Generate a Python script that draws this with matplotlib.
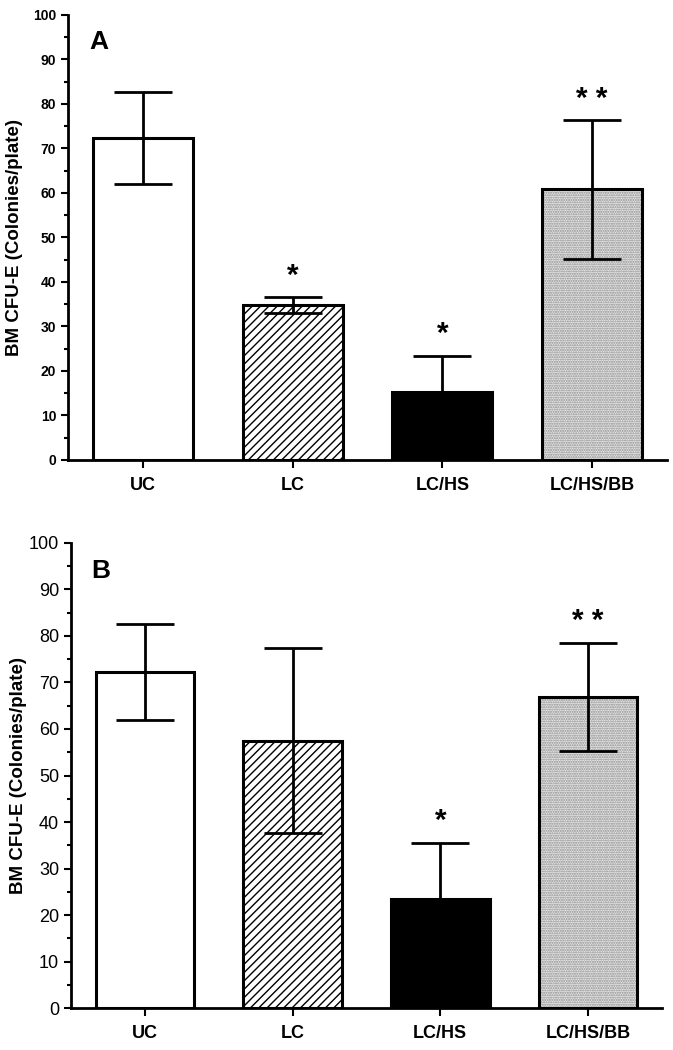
import numpy as np
import matplotlib
matplotlib.use('Agg')
import matplotlib.pyplot as plt
from matplotlib.ticker import MultipleLocator

plt.rcParams['font.family'] = ['Liberation Sans', 'DejaVu Sans']
plt.rcParams['hatch.linewidth'] = 1.0

# data
groups = ['UC', 'LC', 'LC/HS', 'LC/HS/BB']
a_mean = [72.3, 34.8, 15.2, 60.8]
a_err = [10.4, 1.8, 8.2, 15.6]
a_marks = ['', '*', '*', '* *']
b_mean = [72.2, 57.5, 23.5, 66.8]
b_err = [10.3, 19.8, 12.1, 11.6]
b_marks = ['', '', '*', '* *']

fills = ['white', 'white', 'black', '#e6e6e6']
hatches = [None, '////', None, '.......']
hatch_cols = ['black', 'black', 'black', '#8c8c8c']

fig = plt.figure(figsize=(6.73, 10.5), dpi=100)
axA = fig.add_axes([0.101, 0.562, 0.89, 0.4238])
axB = fig.add_axes([0.1055, 0.0397, 0.878, 0.4434])


def panel(ax, mean, err, marks, letter, tick_bold, tick_size):
    x = np.arange(len(groups))
    w = 0.667
    # fill + hatch first, then outline on top
    for i in range(len(groups)):
        ax.bar(x[i], mean[i], w, color=fills[i], hatch=hatches[i],
               edgecolor=hatch_cols[i], linewidth=0, zorder=2)
    ax.bar(x, mean, w, fill=False, edgecolor='black', linewidth=2.2, zorder=3)
    ax.errorbar(x, mean, yerr=err, fmt='none', ecolor='black', elinewidth=2,
                capsize=21, capthick=2, zorder=4)
    for i in range(len(groups)):
        if marks[i]:
            ax.text(x[i], mean[i] + err[i] + 3.0, marks[i], ha='center',
                    va='baseline', fontsize=21.5, fontweight='bold')
    ax.set_xlim(-0.5, 3.5)
    ax.set_ylim(0, 100)
    ax.yaxis.set_major_locator(MultipleLocator(10))
    ax.yaxis.set_minor_locator(MultipleLocator(5))
    ax.set_xticks(x)
    ax.set_xticklabels(groups, fontweight='bold', fontsize=13)
    for lab in ax.get_yticklabels():
        lab.set_fontweight('bold' if tick_bold else 'normal')
        lab.set_fontsize(tick_size)
    ax.tick_params(axis='y', which='major', length=5, width=1.5, direction='out')
    ax.tick_params(axis='y', which='minor', length=3, width=1.5, direction='out')
    ax.tick_params(axis='x', length=6, width=1.5, direction='out', pad=6)
    for s in ['top', 'right']:
        ax.spines[s].set_visible(False)
    for s in ['left', 'bottom']:
        ax.spines[s].set_linewidth(2)
    ax.set_ylabel('BM CFU-E (Colonies/plate)', fontweight='bold', fontsize=13.5)
    ax.text(0.035, 0.94, letter, transform=ax.transAxes, fontsize=19,
            fontweight='bold', va='center', ha='left')


panel(axA, a_mean, a_err, a_marks, 'A', True, 10)
panel(axB, b_mean, b_err, b_marks, 'B', False, 13)
axA.yaxis.set_label_coords(-0.075, 0.5)
axB.yaxis.set_label_coords(-0.075, 0.5)

fig.savefig('out.png', dpi=100)
